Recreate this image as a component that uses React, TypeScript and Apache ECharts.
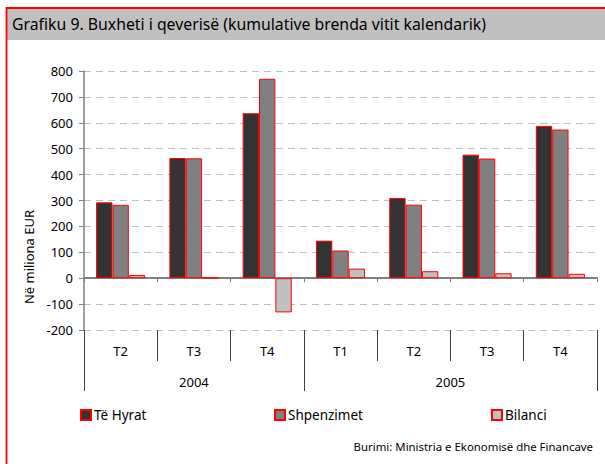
import React, { useEffect, useRef } from "react";
import * as echarts from "echarts";

const categories = ["T2", "T3", "T4", "T1", "T2", "T3", "T4"];
const years = ["2004", "2005"];
const hyrat = [293, 464, 637, 145, 310, 477, 588];
const shpenzimet = [283, 463, 770, 107, 284, 462, 574];
const bilanci = [12, 2, -132, 37, 27, 19, 17];

const FONT = "Noto Sans";

export default function App() {
  const ref = useRef<HTMLDivElement>(null);
  useEffect(() => {
    if (!ref.current) return;
    const chart = echarts.init(ref.current, null, { renderer: "svg" });
    const barItem = (color: string) => ({
      color,
      borderColor: "#ff0000",
      borderWidth: 1,
    });
    chart.setOption({
      animation: false,
      backgroundColor: "#ffffff",
      textStyle: { fontFamily: FONT },
      grid: { left: 84, right: 8, top: 71, bottom: 134, containLabel: false },
      yAxis: {
        type: "value",
        min: -200,
        max: 800,
        interval: 100,
        axisLine: { show: true, lineStyle: { color: "#808080", width: 1.5 } },
        axisTick: { show: true, length: 5, lineStyle: { color: "#808080" } },
        axisLabel: { color: "#000", fontSize: 13, margin: 11, fontFamily: FONT },
        splitLine: { show: true, lineStyle: { color: "#c0c0c0", type: [7, 5], width: 1 } },
      },
      xAxis: [
        {
          type: "category",
          data: categories,
          position: "bottom",
          axisLine: { show: false, onZero: false },
          axisTick: { show: true, length: 31, lineStyle: { color: "#404040" } },
          axisLabel: { color: "#000", fontSize: 13, margin: 14, fontFamily: FONT },
          splitLine: { show: false },
        },
        {
          type: "category",
          data: categories,
          position: "bottom",
          axisLine: { show: true, onZero: true, onZeroAxisIndex: 0, lineStyle: { color: "#808080", width: 2 } },
          axisTick: { show: true, length: 4, lineStyle: { color: "#808080" } },
          axisLabel: { show: false },
          splitLine: { show: false },
        },
        {
          type: "value",
          min: 0,
          max: 7,
          position: "bottom",
          axisLine: { show: false, onZero: false },
          axisTick: { show: true, length: 61, customValues: [0, 3, 7], lineStyle: { color: "#404040" } },
          axisLabel: {
            show: true,
            customValues: [1.5, 5],
            margin: 45,
            fontSize: 13,
            color: "#000",
            fontFamily: FONT,
            formatter: (v: number) => (v < 3 ? years[0] : years[1]),
          },
          splitLine: { show: false },
        },
      ],
      legend: [
        { data: ["Të Hyrat"], left: 80, top: 408 },
        { data: ["Shpenzimet"], left: 274, top: 408 },
        { data: ["Bilanci"], left: 491, top: 408 },
      ].map((l) => ({
        ...l,
        icon: "rect",
        itemWidth: 10,
        itemHeight: 10,
        itemGap: 0,
        padding: 0,
        textStyle: { fontSize: 13.5, color: "#000", fontFamily: FONT, padding: [0, 0, 0, -2] },
      })),
      series: [
        { name: "Të Hyrat", type: "bar", data: hyrat, xAxisIndex: 0, barGap: "0%", barCategoryGap: "33%", itemStyle: barItem("#333333") },
        { name: "Shpenzimet", type: "bar", data: shpenzimet, xAxisIndex: 0, barGap: "0%", barCategoryGap: "33%", itemStyle: barItem("#808080") },
        { name: "Bilanci", type: "bar", data: bilanci, xAxisIndex: 0, barGap: "0%", barCategoryGap: "33%", itemStyle: barItem("#c0c0c0") },
      ],
      graphic: [
        { type: "rect", shape: { x: 7, y: 9, width: 620, height: 31 }, style: { fill: "#c0c0c0" }, silent: true },
        { type: "rect", shape: { x: 6.5, y: 8, width: 700, height: 600 }, style: { fill: null, stroke: "#ff0000", lineWidth: 1.8 }, silent: true },
        {
          type: "text",
          x: 12,
          y: 24,
          style: {
            text: "Grafiku 9. Buxheti i qeverisë (kumulative brenda vitit kalendarik)",
            font: `15.8px '${FONT}'`,
            fill: "#000",
            verticalAlign: "middle",
            textAlign: "left",
          },
        },
        {
          type: "text",
          x: 29,
          y: 257,
          rotation: Math.PI / 2,
          style: {
            text: "Në miliona EUR",
            font: `13px '${FONT}'`,
            fill: "#000",
            verticalAlign: "middle",
            textAlign: "center",
          },
        },
        {
          type: "text",
          x: 593,
          y: 446,
          style: {
            text: "Burimi: Ministria e Ekonomisë dhe Financave",
            font: `11.4px '${FONT}'`,
            fill: "#000",
            verticalAlign: "middle",
            textAlign: "right",
          },
        },
      ],
    });
    return () => chart.dispose();
  }, []);
  return (
    <div
      ref={ref}
      style={{ position: "fixed", left: 0, top: 0, width: 605, height: 464 }}
    />
  );
}
